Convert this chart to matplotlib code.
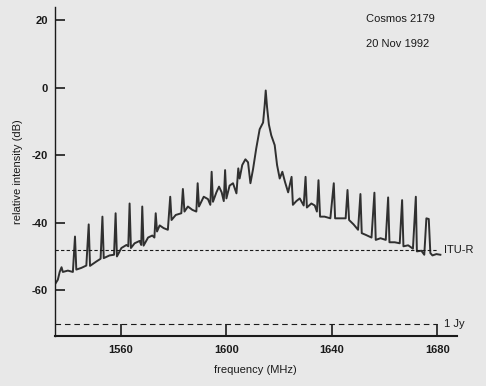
import matplotlib
matplotlib.use("Agg")
from matplotlib import pyplot as plt

# spectrum (MHz, dB)
freq = [1535.4, 1536.2, 1536.9, 1537.6, 1538.1, 1540.0, 1541.9, 1542.7, 1543.2, 1545.1,
        1547.0, 1547.9, 1548.4, 1550.8, 1552.4, 1553.1, 1553.6, 1555.8, 1557.5, 1558.1,
        1558.6, 1560.3, 1562.2, 1562.9, 1563.4, 1563.9, 1565.3, 1567.2, 1567.8, 1568.2,
        1568.7, 1570.4, 1572.0, 1572.8, 1573.3, 1573.8, 1574.8, 1576.3, 1577.9, 1578.8,
        1579.3, 1580.9, 1583.0, 1583.6, 1584.2, 1585.5, 1587.2, 1588.7, 1589.2, 1589.7,
        1591.5, 1593.1, 1594.0, 1594.5, 1595.0, 1596.3, 1597.3, 1598.3, 1599.1, 1599.6,
        1600.1, 1601.3, 1602.6, 1603.9, 1604.6, 1605.1, 1606.1, 1607.3, 1608.3, 1609.2,
        1610.2, 1611.4, 1612.7, 1614.0, 1614.6, 1615.0, 1615.5, 1616.2, 1617.1, 1618.4,
        1619.3, 1620.3, 1621.3, 1622.3, 1623.5, 1624.8, 1625.3, 1626.6, 1627.9, 1629.4,
        1630.1, 1630.6, 1632.3, 1633.6, 1634.4, 1635.0, 1635.6, 1637.3, 1639.5, 1640.8,
        1641.3, 1643.0, 1645.3, 1646.0, 1646.6, 1648.3, 1650.0, 1650.9, 1651.4, 1652.9,
        1655.1, 1656.2, 1656.7, 1658.5, 1660.5, 1661.4, 1661.9, 1663.9, 1665.8, 1666.7,
        1667.2, 1669.0, 1670.8, 1671.9, 1672.3, 1674.0, 1675.1, 1675.9, 1676.8, 1677.4,
        1678.2, 1679.7, 1681.2]
level = [-57.9, -56.9, -54.6, -53.2, -54.6, -54.2, -54.6, -44.1, -53.9, -53.4,
         -52.7, -40.5, -52.8, -51.5, -50.7, -38.2, -50.5, -49.7, -49.5, -37.2,
         -50.0, -47.5, -46.6, -47.0, -34.3, -47.5, -46.1, -45.4, -46.6, -35.2,
         -46.8, -44.4, -43.8, -44.4, -37.2, -42.6, -40.8, -41.6, -42.1, -32.3,
         -39.2, -37.7, -37.2, -30.0, -36.7, -35.2, -36.2, -36.7, -28.3, -35.2,
         -32.3, -33.0, -34.7, -24.9, -33.8, -31.0, -29.3, -31.0, -33.6, -24.4,
         -32.8, -29.0, -28.3, -31.3, -23.9, -26.9, -22.9, -21.2, -22.1, -28.3,
         -24.1, -18.0, -12.3, -10.3, -5.2, -0.8, -5.7, -10.9, -14.1, -17.0,
         -22.9, -26.9, -24.9, -27.9, -31.0, -26.4, -34.7, -33.6, -32.8, -34.9,
         -26.4, -35.5, -34.3, -34.9, -36.7, -27.4, -38.2, -38.2, -38.7, -28.3,
         -38.7, -38.7, -38.7, -30.3, -39.2, -40.5, -42.1, -31.5, -43.1, -43.6,
         -44.4, -31.1, -45.1, -44.6, -45.1, -32.5, -45.8, -45.8, -46.1, -33.3,
         -47.0, -46.7, -47.7, -32.3, -48.5, -48.3, -49.5, -38.7, -38.9, -49.0,
         -49.7, -49.3, -49.5]

itu_level = -48.2
jy_level = -70
xticks = [1560, 1600, 1640, 1680]
yticks = [20, 0, -20, -40, -60]

bg = "#e8e8e8"
ink = "#1a1a1a"
plt.rcParams["font.family"] = ["Liberation Sans", "DejaVu Sans"]
plt.rcParams["axes.unicode_minus"] = False

fig = plt.figure(figsize=(4.86, 3.86), dpi=100, facecolor=bg)
ax = fig.add_axes([0.1125, 0.1303, 0.8278, 0.852], facecolor=bg)

ax.plot(freq, level, color="#303030", lw=1.4)

# reference levels
ax.plot([1535, 1680], [itu_level, itu_level], color=ink, lw=0.8, ls=(0, (3, 2)))
ax.plot([1535, 1680], [jy_level, jy_level], color=ink, lw=0.8, ls=(0, (5, 3.5)))
ax.text(1682.5, itu_level, "ITU-R", fontsize=8, va="center", ha="left", color=ink)
ax.text(1682.5, jy_level, "1 Jy", fontsize=8, va="center", ha="left", color=ink)

ax.text(1653, 20.5, "Cosmos 2179", fontsize=8, color=ink, va="center")
ax.text(1653, 13, "20 Nov 1992", fontsize=8, color=ink, va="center")

ax.set_xlim(1535, 1687.5)
ax.set_ylim(-73.5, 24)
ax.set_xticks(xticks)
ax.set_yticks(yticks)
ax.tick_params(axis="x", direction="in", length=9, width=1.2, pad=7, labelsize=8, colors=ink)
ax.tick_params(axis="y", direction="in", length=7, width=1.2, pad=5, labelsize=8, colors=ink)
for lab in ax.get_xticklabels() + ax.get_yticklabels():
    lab.set_fontweight("bold")

for s in ["top", "right"]:
    ax.spines[s].set_visible(False)
ax.spines["left"].set_linewidth(1.0)
ax.spines["bottom"].set_linewidth(1.5)
ax.spines["left"].set_color(ink)
ax.spines["bottom"].set_color(ink)

ax.set_xlabel("frequency (MHz)", fontsize=8, color=ink, labelpad=7)
ax.set_ylabel("relative intensity (dB)", fontsize=8, color=ink, labelpad=6)

fig.savefig("out.png", dpi=100, facecolor=bg)
